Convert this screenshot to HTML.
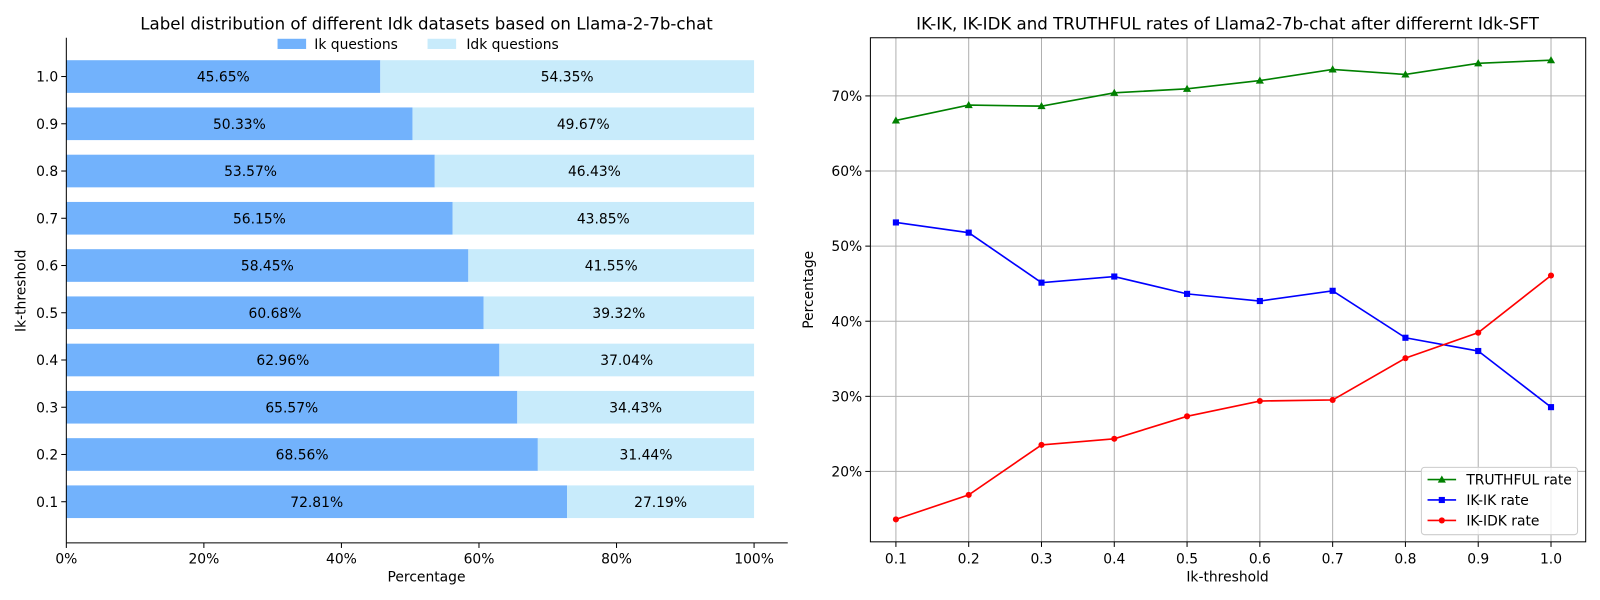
<!DOCTYPE html>
<html><head><meta charset="utf-8"><style>
body{margin:0;background:#fff;}
svg{font-family:"DejaVu Sans","Liberation Sans",sans-serif;display:block;}
</style></head><body>
<svg width="1600" height="600" xmlns="http://www.w3.org/2000/svg">
<rect width="1600" height="600" fill="#fff"/>
<g transform="scale(1.0204)">
<text x="418" y="29" font-size="16.3" text-anchor="middle">Label distribution of different Idk datasets based on Llama-2-7b-chat</text>
<g>
<rect x="65" y="59" width="307.68" height="32" fill="#72b2fc"/><rect x="372.68" y="59" width="366.32" height="32" fill="#c8ebfb"/>
<rect x="65" y="105.3" width="339.22" height="32" fill="#72b2fc"/><rect x="404.22" y="105.3" width="334.78" height="32" fill="#c8ebfb"/>
<rect x="65" y="151.6" width="361.06" height="32" fill="#72b2fc"/><rect x="426.06" y="151.6" width="312.94" height="32" fill="#c8ebfb"/>
<rect x="65" y="197.9" width="378.45" height="32" fill="#72b2fc"/><rect x="443.45" y="197.9" width="295.55" height="32" fill="#c8ebfb"/>
<rect x="65" y="244.2" width="393.95" height="32" fill="#72b2fc"/><rect x="458.95" y="244.2" width="280.05" height="32" fill="#c8ebfb"/>
<rect x="65" y="290.5" width="408.98" height="32" fill="#72b2fc"/><rect x="473.98" y="290.5" width="265.02" height="32" fill="#c8ebfb"/>
<rect x="65" y="336.8" width="424.35" height="32" fill="#72b2fc"/><rect x="489.35" y="336.8" width="249.65" height="32" fill="#c8ebfb"/>
<rect x="65" y="383.1" width="441.94" height="32" fill="#72b2fc"/><rect x="506.94" y="383.1" width="232.06" height="32" fill="#c8ebfb"/>
<rect x="65" y="429.4" width="462.09" height="32" fill="#72b2fc"/><rect x="527.09" y="429.4" width="211.91" height="32" fill="#c8ebfb"/>
<rect x="65" y="475.7" width="490.74" height="32" fill="#72b2fc"/><rect x="555.74" y="475.7" width="183.26" height="32" fill="#c8ebfb"/>
</g>
<g font-size="13.6" text-anchor="middle">
<text x="218.84" y="80">45.65%</text><text x="555.84" y="80">54.35%</text>
<text x="234.61" y="126.3">50.33%</text><text x="571.61" y="126.3">49.67%</text>
<text x="245.53" y="172.6">53.57%</text><text x="582.53" y="172.6">46.43%</text>
<text x="254.23" y="218.9">56.15%</text><text x="591.23" y="218.9">43.85%</text>
<text x="261.98" y="265.2">58.45%</text><text x="598.98" y="265.2">41.55%</text>
<text x="269.49" y="311.5">60.68%</text><text x="606.49" y="311.5">39.32%</text>
<text x="277.18" y="357.8">62.96%</text><text x="614.18" y="357.8">37.04%</text>
<text x="285.97" y="404.1">65.57%</text><text x="622.97" y="404.1">34.43%</text>
<text x="296.05" y="450.4">68.56%</text><text x="633.05" y="450.4">31.44%</text>
<text x="310.37" y="496.7">72.81%</text><text x="647.37" y="496.7">27.19%</text>
</g>
<g stroke="#000">
<line x1="60" x2="65" y1="75" y2="75"/><line x1="60" x2="65" y1="121.3" y2="121.3"/><line x1="60" x2="65" y1="167.6" y2="167.6"/><line x1="60" x2="65" y1="213.9" y2="213.9"/><line x1="60" x2="65" y1="260.2" y2="260.2"/><line x1="60" x2="65" y1="306.5" y2="306.5"/><line x1="60" x2="65" y1="352.8" y2="352.8"/><line x1="60" x2="65" y1="399.1" y2="399.1"/><line x1="60" x2="65" y1="445.4" y2="445.4"/><line x1="60" x2="65" y1="491.7" y2="491.7"/>
<line x1="65" x2="65" y1="532" y2="537"/><line x1="199.8" x2="199.8" y1="532" y2="537"/><line x1="334.6" x2="334.6" y1="532" y2="537"/><line x1="469.4" x2="469.4" y1="532" y2="537"/><line x1="604.2" x2="604.2" y1="532" y2="537"/><line x1="739" x2="739" y1="532" y2="537"/>
</g>
<g font-size="13.6" text-anchor="end">
<text x="57" y="80">1.0</text><text x="57" y="126.3">0.9</text><text x="57" y="172.6">0.8</text><text x="57" y="218.9">0.7</text><text x="57" y="265.2">0.6</text><text x="57" y="311.5">0.5</text><text x="57" y="357.8">0.4</text><text x="57" y="404.1">0.3</text><text x="57" y="450.4">0.2</text><text x="57" y="496.7">0.1</text>
</g>
<g font-size="13.6" text-anchor="middle">
<text x="65" y="552">0%</text><text x="199.8" y="552">20%</text><text x="334.6" y="552">40%</text><text x="469.4" y="552">60%</text><text x="604.2" y="552">80%</text><text x="739" y="552">100%</text>
</g>
<line x1="65" y1="37" x2="65" y2="532" stroke="#000"/>
<line x1="65" y1="532" x2="772" y2="532" stroke="#000"/>
<text x="418" y="570" font-size="13.6" text-anchor="middle">Percentage</text>
<text x="25" y="285" font-size="13.6" text-anchor="middle" transform="rotate(-90 25 285)">Ik-threshold</text>
<rect x="272" y="38" width="28" height="10" fill="#72b2fc"/>
<text x="308" y="48" font-size="13.6">Ik questions</text>
<rect x="419" y="38" width="28" height="10" fill="#c8ebfb"/>
<text x="457" y="48" font-size="13.6">Idk questions</text>

<text x="1203" y="29" font-size="16.3" text-anchor="middle">IK-IK, IK-IDK and TRUTHFUL rates of Llama2-7b-chat after differernt Idk-SFT</text>
<g stroke="#b0b0b0">
<line x1="878" x2="878" y1="37" y2="531"/><line x1="949.33" x2="949.33" y1="37" y2="531"/><line x1="1020.67" x2="1020.67" y1="37" y2="531"/><line x1="1092" x2="1092" y1="37" y2="531"/><line x1="1163.33" x2="1163.33" y1="37" y2="531"/><line x1="1234.67" x2="1234.67" y1="37" y2="531"/><line x1="1306" x2="1306" y1="37" y2="531"/><line x1="1377.33" x2="1377.33" y1="37" y2="531"/><line x1="1448.67" x2="1448.67" y1="37" y2="531"/><line x1="1520" x2="1520" y1="37" y2="531"/>
<line x1="853" x2="1554" y1="462" y2="462"/><line x1="853" x2="1554" y1="388.4" y2="388.4"/><line x1="853" x2="1554" y1="314.8" y2="314.8"/><line x1="853" x2="1554" y1="241.2" y2="241.2"/><line x1="853" x2="1554" y1="167.6" y2="167.6"/><line x1="853" x2="1554" y1="94" y2="94"/>
</g>
<g stroke="#000">
<line x1="878" x2="878" y1="531" y2="536"/><line x1="949.33" x2="949.33" y1="531" y2="536"/><line x1="1020.67" x2="1020.67" y1="531" y2="536"/><line x1="1092" x2="1092" y1="531" y2="536"/><line x1="1163.33" x2="1163.33" y1="531" y2="536"/><line x1="1234.67" x2="1234.67" y1="531" y2="536"/><line x1="1306" x2="1306" y1="531" y2="536"/><line x1="1377.33" x2="1377.33" y1="531" y2="536"/><line x1="1448.67" x2="1448.67" y1="531" y2="536"/><line x1="1520" x2="1520" y1="531" y2="536"/>
<line x1="848" x2="853" y1="462" y2="462"/><line x1="848" x2="853" y1="388.4" y2="388.4"/><line x1="848" x2="853" y1="314.8" y2="314.8"/><line x1="848" x2="853" y1="241.2" y2="241.2"/><line x1="848" x2="853" y1="167.6" y2="167.6"/><line x1="848" x2="853" y1="94" y2="94"/>
</g>
<g font-size="13.6" text-anchor="middle">
<text x="878" y="552">0.1</text><text x="949.33" y="552">0.2</text><text x="1020.67" y="552">0.3</text><text x="1092" y="552">0.4</text><text x="1163.33" y="552">0.5</text><text x="1234.67" y="552">0.6</text><text x="1306" y="552">0.7</text><text x="1377.33" y="552">0.8</text><text x="1448.67" y="552">0.9</text><text x="1520" y="552">1.0</text>
</g>
<g font-size="13.6" text-anchor="end">
<text x="845" y="467">20%</text><text x="845" y="393.4">30%</text><text x="845" y="319.8">40%</text><text x="845" y="246.2">50%</text><text x="845" y="172.6">60%</text><text x="845" y="99">70%</text>
</g>
<polyline fill="none" stroke="#008000" stroke-width="1.6" points="878,118 949.33,103 1020.67,104 1092,91 1163.33,87 1234.67,79 1306,68 1377.33,73 1448.67,62 1520,59"/>
<polyline fill="none" stroke="#0000ff" stroke-width="1.6" points="878,218 949.33,228 1020.67,277 1092,271 1163.33,288 1234.67,295 1306,285 1377.33,331 1448.67,344 1520,399"/>
<polyline fill="none" stroke="#ff0000" stroke-width="1.6" points="878,509 949.33,485 1020.67,436 1092,430 1163.33,408 1234.67,393 1306,392 1377.33,351 1448.67,326 1520,270"/>
<g fill="#008000">
<polygon points="878,114 874,121 882,121"/><polygon points="949.33,99 945.33,106 953.33,106"/><polygon points="1020.67,100 1016.67,107 1024.67,107"/><polygon points="1092,87 1088,94 1096,94"/><polygon points="1163.33,83 1159.33,90 1167.33,90"/><polygon points="1234.67,75 1230.67,82 1238.67,82"/><polygon points="1306,64 1302,71 1310,71"/><polygon points="1377.33,69 1373.33,76 1381.33,76"/><polygon points="1448.67,58 1444.67,65 1452.67,65"/><polygon points="1520,55 1516,62 1524,62"/>
</g>
<g fill="#0000ff">
<rect x="875" y="215" width="6" height="6"/><rect x="946.33" y="225" width="6" height="6"/><rect x="1017.67" y="274" width="6" height="6"/><rect x="1089" y="268" width="6" height="6"/><rect x="1160.33" y="285" width="6" height="6"/><rect x="1231.67" y="292" width="6" height="6"/><rect x="1303" y="282" width="6" height="6"/><rect x="1374.33" y="328" width="6" height="6"/><rect x="1445.67" y="341" width="6" height="6"/><rect x="1517" y="396" width="6" height="6"/>
</g>
<g fill="#ff0000">
<circle cx="878" cy="509" r="3"/><circle cx="949.33" cy="485" r="3"/><circle cx="1020.67" cy="436" r="3"/><circle cx="1092" cy="430" r="3"/><circle cx="1163.33" cy="408" r="3"/><circle cx="1234.67" cy="393" r="3"/><circle cx="1306" cy="392" r="3"/><circle cx="1377.33" cy="351" r="3"/><circle cx="1448.67" cy="326" r="3"/><circle cx="1520" cy="270" r="3"/>
</g>
<rect x="853" y="37" width="701" height="494" fill="none" stroke="#000"/>
<text x="1203" y="570" font-size="13.6" text-anchor="middle">Ik-threshold</text>
<text x="797" y="284" font-size="13.6" text-anchor="middle" transform="rotate(-90 797 284)">Percentage</text>
<rect x="1393" y="458" width="153" height="66" rx="3" fill="#fff" fill-opacity="0.8" stroke="#ccc"/>
<g font-size="13.6">
<line x1="1399" x2="1427" y1="470" y2="470" stroke="#008000" stroke-width="1.6"/><polygon points="1413,466 1409,473 1417,473" fill="#008000"/><text x="1437" y="475">TRUTHFUL rate</text>
<line x1="1399" x2="1427" y1="490" y2="490" stroke="#0000ff" stroke-width="1.6"/><rect x="1410" y="487" width="6" height="6" fill="#0000ff"/><text x="1437" y="495">IK-IK rate</text>
<line x1="1399" x2="1427" y1="510" y2="510" stroke="#ff0000" stroke-width="1.6"/><circle cx="1413" cy="510" r="3" fill="#ff0000"/><text x="1437" y="515">IK-IDK rate</text>
</g>
</g>
</svg>
</body></html>
